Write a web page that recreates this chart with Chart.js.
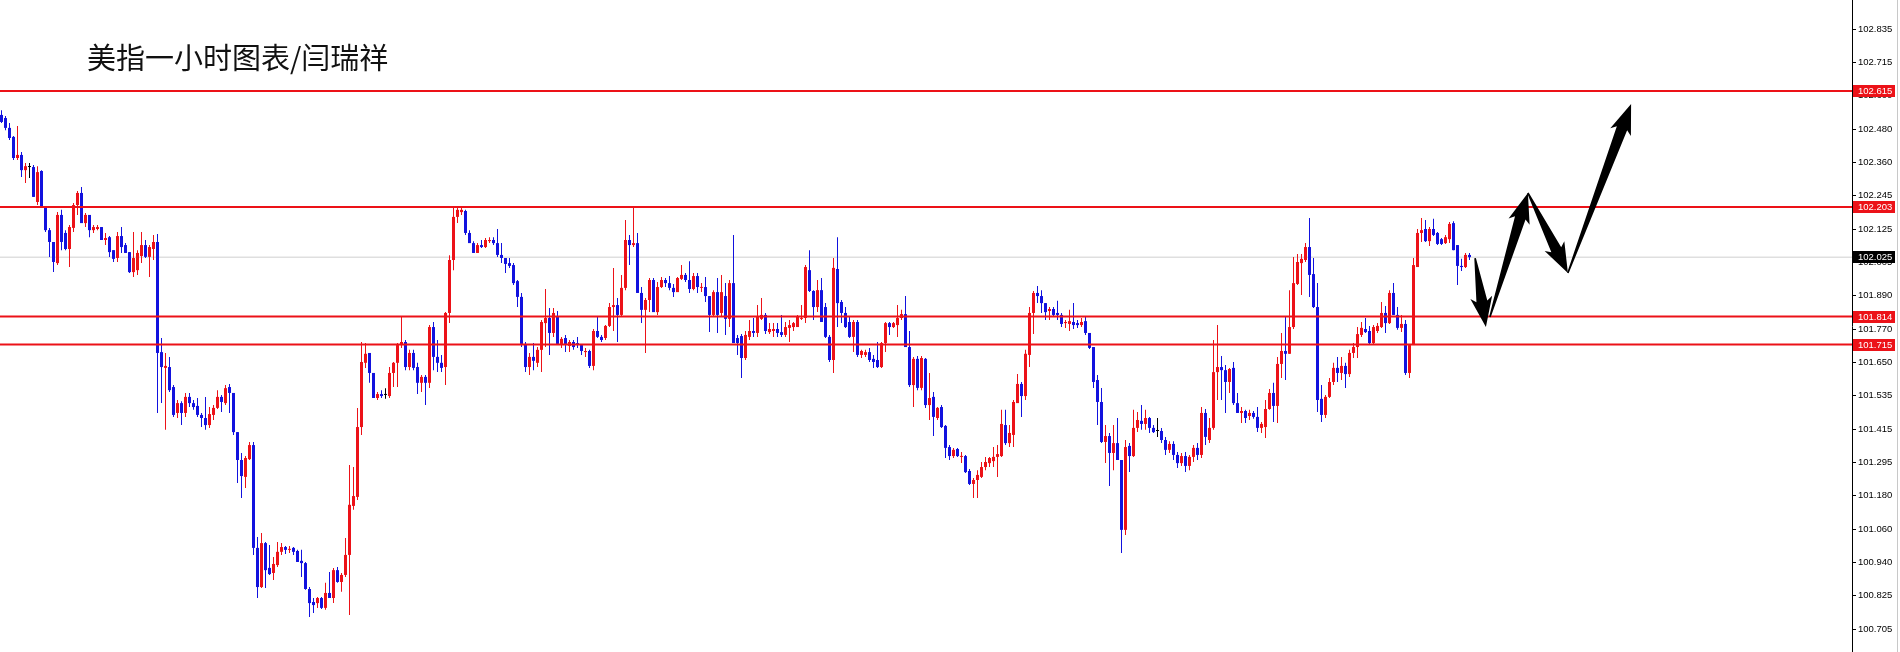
<!DOCTYPE html>
<html><head><meta charset="utf-8">
<script src="https://cdn.jsdelivr.net/npm/chart.js@4.4.1/dist/chart.umd.min.js"></script>
<style>html,body{margin:0;padding:0;background:#fff;overflow:hidden}#wrap{position:relative;width:1900px;height:652px}canvas{display:block}</style>
</head><body><div id="wrap"><canvas id="c" width="1900" height="652"></canvas></div>
<script>
const titleText = '美指一小时图表/闫瑞祥';

const opens = [
102.530,102.519,102.484,102.452,102.377,102.388,102.334,102.345,102.345,102.221,
102.331,102.203,102.121,102.079,102.004,102.175,102.111,102.054,102.129,102.210,
102.253,102.146,102.175,102.121,102.125,102.132,102.086,102.096,102.050,102.022,
102.100,102.068,102.043,101.972,101.979,102.029,102.068,102.026,102.054,102.079,
101.688,101.632,101.635,101.564,101.472,101.507,101.472,101.529,101.507,101.497,
101.465,101.454,101.429,101.465,101.490,101.529,101.507,101.564,101.543,101.404,
101.305,101.245,101.308,101.358,100.993,100.854,101.010,100.922,100.904,100.932,
100.979,100.996,100.986,100.993,100.982,100.947,100.939,100.847,100.801,100.797,
100.815,100.780,100.833,100.815,100.914,100.872,100.897,100.968,101.142,101.174,
101.422,101.650,101.685,101.614,101.525,101.539,101.536,101.532,101.614,101.650,
101.713,101.724,101.635,101.685,101.635,101.579,101.600,101.579,101.777,101.671,
101.650,101.635,101.827,102.015,102.168,102.185,102.189,102.111,102.075,102.040,
102.068,102.061,102.082,102.086,102.075,102.033,102.022,102.004,101.997,101.940,
101.884,101.717,101.635,101.671,101.650,101.696,101.791,101.809,101.756,101.816,
101.717,101.738,101.710,101.724,101.720,101.713,101.688,101.692,101.639,101.763,
101.742,101.738,101.781,101.848,101.855,101.820,101.916,102.086,102.068,102.075,
101.898,101.838,101.873,101.944,101.830,101.919,101.944,101.933,101.916,101.901,
101.948,101.962,101.944,101.912,101.958,101.916,101.919,101.887,101.820,101.901,
101.827,101.887,101.806,101.933,101.738,101.745,101.667,101.742,101.763,101.756,
101.806,101.820,101.759,101.763,101.770,101.759,101.749,101.774,101.777,101.777,
101.806,101.809,101.979,101.905,101.848,101.908,101.848,101.742,101.660,101.983,
101.866,101.827,101.795,101.742,101.795,101.678,101.678,101.688,101.664,101.660,
101.635,101.720,101.791,101.777,101.784,101.809,101.823,101.706,101.571,101.664,
101.561,101.664,101.500,101.529,101.454,101.493,101.426,101.351,101.319,101.344,
101.316,101.319,101.266,101.220,101.234,101.245,101.280,101.294,101.301,101.316,
101.319,101.429,101.365,101.394,101.507,101.575,101.532,101.678,101.827,101.898,
101.887,101.862,101.834,101.841,101.827,101.820,101.791,101.788,101.795,101.791,
101.784,101.798,101.756,101.706,101.589,101.511,101.369,101.390,101.330,101.365,
101.305,101.057,101.355,101.319,101.419,101.444,101.433,101.454,101.419,101.408,
101.408,101.376,101.341,101.362,101.323,101.294,101.319,101.284,101.316,101.348,
101.323,101.472,101.376,101.419,101.617,101.635,101.624,101.582,101.632,101.507,
101.472,101.479,101.461,101.472,101.458,101.419,101.422,101.486,101.543,101.497,
101.646,101.692,101.682,101.777,101.930,102.004,102.015,102.061,101.965,101.848,
101.522,101.465,101.529,101.582,101.632,101.614,101.639,101.610,101.685,101.706,
101.749,101.770,101.763,101.720,101.763,101.777,101.827,101.791,101.898,101.820,
101.774,101.788,101.614,101.713,101.990,102.111,102.125,102.082,102.125,102.111,
102.089,102.075,102.089,102.146,102.068,101.994,101.990,102.033];

const highs = [
102.547,102.526,102.501,102.455,102.491,102.398,102.359,102.359,102.352,102.348,
102.334,102.203,102.129,102.079,102.185,102.193,102.121,102.139,102.217,102.260,
102.274,102.182,102.175,102.139,102.139,102.132,102.111,102.100,102.050,102.114,
102.132,102.075,102.043,102.114,102.050,102.114,102.086,102.068,102.104,102.107,
101.738,101.685,101.671,101.571,101.518,101.514,101.543,101.543,101.518,101.525,
101.472,101.529,101.493,101.500,101.553,101.536,101.571,101.575,101.543,101.404,
101.330,101.319,101.369,101.369,101.032,101.046,101.014,101.003,100.961,101.014,
101.010,101.000,101.000,100.996,100.986,100.986,100.943,100.854,100.815,100.819,
100.819,100.869,100.907,100.922,100.925,100.904,101.028,101.287,101.280,101.490,
101.724,101.720,101.685,101.614,101.546,101.553,101.560,101.635,101.653,101.720,
101.813,101.731,101.696,101.696,101.650,101.607,101.607,101.784,101.795,101.731,
101.678,101.830,102.032,102.203,102.203,102.203,102.193,102.121,102.082,102.075,
102.086,102.093,102.096,102.096,102.125,102.075,102.022,102.022,102.004,101.944,
101.898,101.724,101.685,101.720,101.706,101.802,101.912,101.845,101.845,101.834,
101.742,101.749,101.731,101.731,101.742,101.713,101.703,101.696,101.770,101.813,
101.749,101.784,101.862,101.987,101.880,101.962,102.157,102.104,102.203,102.111,
101.919,101.880,101.951,101.951,101.937,101.955,101.951,101.958,101.930,101.955,
101.997,101.969,102.011,101.969,101.969,101.933,101.955,101.887,101.908,101.951,
101.962,101.933,101.944,102.104,101.749,101.752,101.763,101.802,101.809,101.855,
101.880,101.827,101.791,101.791,101.791,101.820,101.795,101.802,101.795,101.820,
101.855,101.997,102.050,101.908,101.944,101.951,101.862,101.749,102.022,102.096,
101.873,101.848,101.813,101.802,101.802,101.696,101.696,101.703,101.678,101.724,
101.724,101.795,101.795,101.795,101.855,101.838,101.887,101.763,101.671,101.674,
101.674,101.667,101.614,101.546,101.493,101.500,101.429,101.358,101.348,101.348,
101.333,101.323,101.273,101.241,101.269,101.298,101.316,101.316,101.351,101.358,
101.483,101.483,101.429,101.518,101.610,101.582,101.696,101.848,101.905,101.923,
101.908,101.862,101.848,101.848,101.870,101.827,101.802,101.838,101.862,101.802,
101.809,101.816,101.756,101.706,101.607,101.561,101.429,101.401,101.429,101.454,
101.305,101.376,101.365,101.483,101.475,101.500,101.483,101.458,101.429,101.454,
101.419,101.387,101.372,101.372,101.333,101.330,101.333,101.323,101.358,101.365,
101.493,101.486,101.454,101.731,101.784,101.674,101.642,101.632,101.653,101.543,
101.493,101.483,101.483,101.479,101.493,101.440,101.518,101.557,101.579,101.671,
101.756,101.813,101.908,102.026,102.036,102.036,102.075,102.164,102.022,101.933,
101.571,101.536,101.596,101.650,101.671,101.671,101.650,101.696,101.720,101.777,
101.795,101.809,101.781,101.784,101.791,101.866,101.852,101.908,101.933,101.848,
101.820,101.802,101.713,102.022,102.125,102.164,102.157,102.132,102.161,102.114,
102.093,102.104,102.150,102.153,102.068,102.019,102.040,102.040];

const lows = [
102.501,102.476,102.441,102.370,102.370,102.310,102.288,102.306,102.239,102.210,
102.203,102.114,102.026,101.972,101.997,102.050,102.050,101.990,102.114,102.175,
102.146,102.132,102.096,102.111,102.121,102.086,102.068,102.026,102.008,102.008,
102.040,102.040,101.969,101.955,101.962,102.004,102.022,101.955,102.015,101.472,
101.507,101.412,101.546,101.458,101.454,101.429,101.458,101.493,101.483,101.458,
101.422,101.412,101.419,101.447,101.486,101.475,101.500,101.472,101.394,101.223,
101.170,101.206,101.305,100.968,100.815,100.851,100.851,100.897,100.879,100.925,
100.968,100.971,100.975,100.968,100.943,100.890,100.844,100.748,100.762,100.780,
100.776,100.773,100.815,100.797,100.869,100.837,100.890,100.755,101.128,101.163,
101.394,101.632,101.579,101.525,101.518,101.525,101.522,101.525,101.564,101.564,
101.703,101.624,101.624,101.624,101.539,101.546,101.500,101.561,101.624,101.617,
101.617,101.571,101.791,101.979,102.146,102.175,102.104,102.075,102.040,102.040,
102.058,102.058,102.075,102.068,102.026,102.004,101.969,101.987,101.926,101.848,
101.706,101.617,101.607,101.624,101.635,101.617,101.706,101.678,101.742,101.713,
101.703,101.688,101.688,101.696,101.703,101.678,101.671,101.632,101.624,101.738,
101.724,101.731,101.777,101.763,101.724,101.813,101.908,101.997,102.061,101.898,
101.791,101.685,101.830,101.830,101.820,101.916,101.919,101.908,101.884,101.901,
101.944,101.937,101.898,101.908,101.898,101.901,101.866,101.759,101.816,101.756,
101.813,101.749,101.777,101.720,101.678,101.596,101.660,101.731,101.742,101.742,
101.802,101.752,101.752,101.742,101.742,101.742,101.742,101.724,101.763,101.777,
101.802,101.791,101.901,101.802,101.830,101.795,101.738,101.653,101.614,101.777,
101.791,101.774,101.738,101.688,101.671,101.667,101.671,101.653,101.632,101.632,
101.632,101.688,101.749,101.774,101.742,101.802,101.706,101.564,101.493,101.553,
101.553,101.490,101.447,101.390,101.447,101.419,101.312,101.305,101.312,101.316,
101.294,101.259,101.216,101.170,101.170,101.241,101.269,101.280,101.280,101.245,
101.316,101.358,101.351,101.351,101.507,101.458,101.518,101.635,101.752,101.862,
101.827,101.802,101.802,101.813,101.802,101.777,101.774,101.763,101.770,101.774,
101.777,101.749,101.699,101.561,101.429,101.365,101.294,101.213,101.269,101.305,
100.975,101.039,101.262,101.316,101.404,101.412,101.412,101.401,101.401,101.387,
101.365,101.323,101.330,101.305,101.277,101.284,101.262,101.269,101.298,101.305,
101.312,101.358,101.365,101.412,101.518,101.518,101.472,101.543,101.500,101.472,
101.436,101.436,101.447,101.451,101.404,101.401,101.383,101.483,101.440,101.436,
101.596,101.589,101.682,101.770,101.926,101.891,102.008,101.884,101.845,101.475,
101.440,101.454,101.525,101.571,101.582,101.589,101.561,101.600,101.667,101.667,
101.742,101.756,101.717,101.717,101.756,101.774,101.756,101.788,101.820,101.767,
101.759,101.607,101.596,101.713,101.990,102.079,102.079,102.065,102.100,102.068,
102.068,102.072,102.075,102.050,101.926,101.976,101.987,102.015];

const closes = [
102.505,102.484,102.448,102.377,102.388,102.334,102.348,102.345,102.239,102.327,
102.203,102.121,102.079,102.008,102.175,102.079,102.054,102.132,102.210,102.253,
102.146,102.175,102.121,102.132,102.132,102.086,102.093,102.043,102.019,102.100,
102.061,102.040,101.972,102.022,102.040,102.068,102.026,102.061,102.079,101.685,
101.635,101.639,101.553,101.465,101.507,101.472,101.529,101.507,101.493,101.465,
101.454,101.429,101.468,101.490,101.529,101.511,101.560,101.543,101.404,101.305,
101.248,101.312,101.358,100.993,100.854,101.010,100.914,100.900,100.936,100.979,
100.996,100.986,100.989,100.979,100.943,100.939,100.847,100.797,100.790,100.815,
100.780,100.833,100.815,100.914,100.872,100.897,100.968,101.146,101.177,101.422,
101.653,101.682,101.614,101.525,101.539,101.532,101.536,101.614,101.650,101.713,
101.724,101.635,101.685,101.632,101.579,101.600,101.579,101.777,101.671,101.650,
101.632,101.827,102.015,102.168,102.193,102.193,102.111,102.075,102.040,102.068,
102.061,102.086,102.086,102.075,102.033,102.022,102.001,101.994,101.933,101.884,
101.717,101.635,101.671,101.657,101.696,101.795,101.809,101.756,101.827,101.717,
101.735,101.717,101.724,101.706,101.713,101.692,101.692,101.639,101.763,101.742,
101.731,101.781,101.848,101.855,101.820,101.916,102.086,102.068,102.075,101.898,
101.838,101.873,101.944,101.830,101.919,101.944,101.933,101.916,101.901,101.951,
101.962,101.944,101.912,101.958,101.919,101.919,101.887,101.820,101.901,101.820,
101.901,101.806,101.933,101.720,101.720,101.667,101.749,101.763,101.756,101.813,
101.820,101.763,101.770,101.770,101.756,101.749,101.777,101.784,101.791,101.813,
101.809,101.990,101.905,101.848,101.908,101.795,101.742,101.660,101.987,101.862,
101.827,101.777,101.742,101.795,101.678,101.692,101.688,101.660,101.653,101.635,
101.720,101.791,101.777,101.791,101.809,101.823,101.706,101.571,101.664,101.561,
101.667,101.500,101.525,101.458,101.490,101.422,101.348,101.319,101.341,101.319,
101.319,101.262,101.220,101.234,101.252,101.280,101.298,101.312,101.316,101.326,
101.433,101.365,101.401,101.511,101.575,101.532,101.682,101.827,101.898,101.887,
101.862,101.830,101.841,101.820,101.820,101.788,101.795,101.798,101.784,101.784,
101.795,101.756,101.703,101.582,101.511,101.369,101.390,101.330,101.365,101.305,
101.057,101.351,101.319,101.419,101.447,101.433,101.454,101.419,101.404,101.408,
101.376,101.341,101.362,101.323,101.294,101.319,101.284,101.316,101.348,101.323,
101.472,101.387,101.419,101.617,101.635,101.624,101.582,101.628,101.507,101.472,
101.479,101.454,101.472,101.458,101.419,101.433,101.486,101.543,101.497,101.646,
101.692,101.682,101.777,101.933,102.008,102.019,102.061,101.962,101.848,101.518,
101.465,101.529,101.582,101.632,101.614,101.639,101.610,101.685,101.706,101.752,
101.774,101.759,101.720,101.777,101.781,101.827,101.791,101.898,101.820,101.774,
101.788,101.614,101.713,101.997,102.111,102.121,102.082,102.125,102.104,102.072,
102.072,102.096,102.143,102.050,101.994,101.990,102.033,102.025];

const yTicks = [102.835,102.715,102.600,102.480,102.360,102.245,102.125,102.005,101.890,101.770,101.650,101.535,101.415,101.295,101.180,101.060,100.940,100.825,100.705];
const levelLines = [102.615,102.203,101.814,101.715];
const bidPrice = 102.025;

// projected zig-zag arrows (bar index, price)
const arrowFromIdx   = [368.4, 372.1, 381.6, 391.6];
const arrowFromPrice = [102.022, 101.813, 102.253, 101.969];
const arrowToIdx     = [371.1, 381.6, 391.6, 407.4];
const arrowToPrice   = [101.777, 102.253, 101.969, 102.569];

const RED = 'rgb(236,18,24)';
const BLUE = 'rgb(18,18,222)';
const SLOTS = 463;
const xMin = -0.375, xMax = xMin + SLOTS;
const yMax = 102.938, yMin = 100.6234;

function candleColor(i){
  if (closes[i] > opens[i]) return RED;
  if (closes[i] < opens[i]) return BLUE;
  return '#000';
}

const bodyData = opens.map((o,i)=>({x:i, y:[o, closes[i]]}));
const wickData = lows.map((l,i)=>({x:i, y:[l, highs[i]]}));

const datasets = [
  {type:'bar', label:'body', data: bodyData, backgroundColor: c=>candleColor(c.dataIndex),
   barThickness:3, minBarLength:1, grouped:false, borderWidth:0, inflateAmount:0, order:1},
  {type:'bar', label:'wick', data: wickData, backgroundColor: c=>candleColor(c.dataIndex),
   barThickness:1, grouped:false, borderWidth:0, inflateAmount:0, order:2},
  {type:'line', label:'bid', data:[{x:xMin,y:bidPrice},{x:xMax,y:bidPrice}], borderColor:'#cfcfcf',
   borderWidth:1, pointRadius:0, order:3}
];
levelLines.forEach((v,k)=>datasets.push({type:'line', label:'level'+k,
  data:[{x:xMin,y:v},{x:xMax,y:v}], borderColor:RED, borderWidth:2, pointRadius:0, order:0}));

const overlay = {
  id:'overlay',
  afterDatasetsDraw(chart){
    const ctx = chart.ctx, xs = chart.scales.x, ys = chart.scales.y;
    ctx.save();
    ctx.fillStyle = '#000';
    for (let k=0;k<arrowFromIdx.length;k++){
      const x0 = xs.getPixelForValue(arrowFromIdx[k]), y0 = ys.getPixelForValue(arrowFromPrice[k]);
      const x1 = xs.getPixelForValue(arrowToIdx[k]),   y1 = ys.getPixelForValue(arrowToPrice[k]);
      const dx = x1-x0, dy = y1-y0, len = Math.hypot(dx,dy);
      const ux = dx/len, uy = dy/len, nx = -uy, ny = ux;
      const hl = 26, hw = 11, sw0 = 0.8, sw1 = 5.5;
      const bx = x1-ux*hl, by = y1-uy*hl;
      const barbx = bx-ux*4, barby = by-uy*4;
      ctx.beginPath();
      ctx.moveTo(x0+nx*sw0, y0+ny*sw0);
      ctx.lineTo(bx+nx*sw1, by+ny*sw1);
      ctx.lineTo(barbx+nx*hw, barby+ny*hw);
      ctx.lineTo(x1, y1);
      ctx.lineTo(barbx-nx*hw, barby-ny*hw);
      ctx.lineTo(bx-nx*sw1, by-ny*sw1);
      ctx.lineTo(x0-nx*sw0, y0-ny*sw0);
      ctx.closePath();
      ctx.fill();
    }
    ctx.restore();
  },
  afterDraw(chart){
    const ctx = chart.ctx, ys = chart.scales.y, area = chart.chartArea;
    ctx.save();
    const badge = (v, bg) => {
      const y = Math.round(ys.getPixelForValue(v));
      ctx.fillStyle = bg;
      ctx.fillRect(area.right+1, y-6, 42, 12);
      ctx.fillStyle = '#fff';
      ctx.font = '9.5px "Liberation Sans"';
      ctx.textBaseline = 'middle';
      ctx.textAlign = 'left';
      ctx.fillText(v.toFixed(3), area.right+6, y+0.5);
    };
    levelLines.forEach(v=>badge(v, RED));
    badge(bidPrice, '#000');
    ctx.fillStyle = '#c8c8c8';
    ctx.fillRect(1897, 0, 1, chart.height);
    ctx.fillStyle = '#111';
    ctx.font = '400 29px "Noto Sans CJK SC"';
    ctx.textBaseline = 'alphabetic';
    ctx.textAlign = 'left';
    ctx.fillText(titleText, 87, 69);
    ctx.restore();
  }
};

function build(){
  new Chart(document.getElementById('c'), {
    type:'bar',
    data:{datasets},
    options:{
      responsive:false, animation:false, devicePixelRatio:1,
      layout:{padding:0},
      plugins:{legend:{display:false}, tooltip:{enabled:false}, title:{display:false}},
      scales:{
        x:{type:'linear', min:xMin, max:xMax, offset:false, display:false},
        y:{type:'linear', position:'right', min:yMin, max:yMax, beginAtZero:false,
           afterBuildTicks: s=>{ s.ticks = yTicks.map(v=>({value:v})); },
           afterFit: s=>{ s.width = 48; s.paddingTop = 0; s.paddingBottom = 0; },
           ticks:{callback: v=>Number(v).toFixed(3), color:'#000', autoSkip:false, padding:2,
                  font:{family:'Liberation Sans', size:9.5}},
           grid:{drawOnChartArea:false, drawTicks:true, tickLength:4, color:'#000'},
           border:{display:true, color:'#000', width:1}
        }
      }
    },
    plugins:[overlay]
  });
}
if (document.fonts && document.fonts.load) {
  Promise.all([document.fonts.load('29px "Noto Sans CJK SC"', titleText), document.fonts.load('9.5px "Liberation Sans"')])
    .then(build, build);
} else build();
</script>
</body></html>
